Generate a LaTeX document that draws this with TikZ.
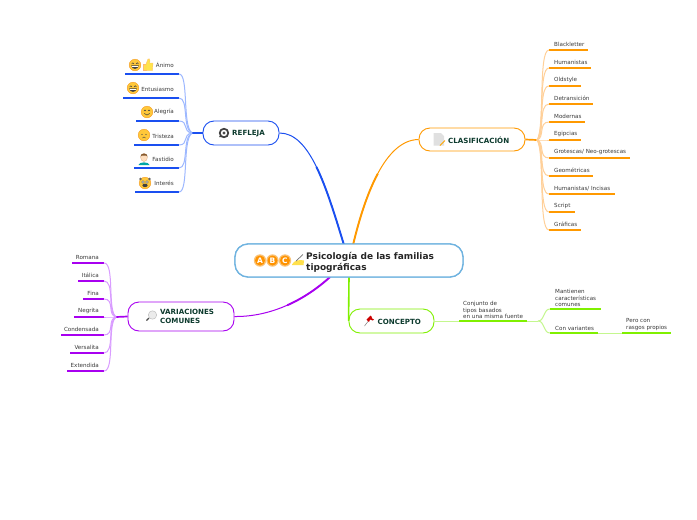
\documentclass[tikz,border=0pt]{standalone}
\usepackage{fontspec}
\usetikzlibrary{calc}
\setmainfont{DejaVu Sans}
\definecolor{cblue}{HTML}{1A4FF0}
\definecolor{lblue}{HTML}{9DB8FF}
\definecolor{corange}{HTML}{FF9900}
\definecolor{lorange}{HTML}{FFD099}
\definecolor{cpurple}{HTML}{A800F0}
\definecolor{lpurple}{HTML}{D99CFF}
\definecolor{cgreen}{HTML}{80F000}
\definecolor{lgreen}{HTML}{C4F78E}
\definecolor{csky}{HTML}{6FB3E0}
\definecolor{tdark}{HTML}{0D3B2E}
\definecolor{tgray}{HTML}{3A3A3A}
\definecolor{fyel}{HTML}{FFC83A}
\definecolor{ford}{HTML}{F59A1C}
\tikzset{
  x=1pt,y=-1pt,
  root/.style={draw=csky,line width=1.3pt,rounded corners=13pt,minimum width=228pt,minimum height=33pt,inner sep=0pt,fill=white},
  topic/.style={draw=#1,line width=0.9pt,rounded corners=11pt,inner sep=0pt,fill=white},
  roottext/.style={font=\bfseries\fontsize{9}{11}\selectfont,text=black!85,align=left,anchor=west,inner sep=0pt},
  topictext/.style={font=\bfseries\fontsize{7.1}{9}\selectfont,text=tdark,align=left,anchor=west,inner sep=0pt},
  leaftext/.style={font=\fontsize{5.6}{6.7}\selectfont,text=tgray,inner sep=0pt,align=left},
  under/.style={draw=#1,line width=1.2pt},
  twig/.style={draw=#1,line width=1pt},
  branch/.style={draw=#1,line width=1pt},
  branchend/.style={draw=#1,line width=1.9pt},
}
\newcommand{\fc}[2]{\fill[fyel,draw=ford,line width=0.4pt] (#1,#2) circle (5.8);}
\newcommand{\smileface}[2]{\fc{#1}{#2}
  \draw[black!75,line width=0.5pt] ({#1-3.4},{#2-1}) .. controls ({#1-2.2},{#2-2.6}) .. ({#1-1},{#2-1}) ({#1+1},{#2-1}) .. controls ({#1+2.2},{#2-2.6}) .. ({#1+3.4},{#2-1});
  \fill[black!75] ({#1-3.8},{#2+0.4}) -- ({#1+3.8},{#2+0.4}) .. controls ({#1+3.2},{#2+5}) and ({#1-3.2},{#2+5}) .. cycle;
  \fill[white] ({#1-3.1},{#2+0.8}) rectangle ({#1+3.1},{#2+2});}
\newcommand{\gladface}[2]{\fc{#1}{#2}
  \draw[black!75,line width=0.5pt] ({#1-3},{#2-1}) .. controls ({#1-2},{#2-2.4}) .. ({#1-1},{#2-1}) ({#1+1},{#2-1}) .. controls ({#1+2},{#2-2.4}) .. ({#1+3},{#2-1});
  \draw[black!75,line width=0.5pt] ({#1-2.8},{#2+1.4}) .. controls ({#1-1},{#2+3.6}) and ({#1+1},{#2+3.6}) .. ({#1+2.8},{#2+1.4});}
\newcommand{\sadface}[2]{\fc{#1}{#2}
  \fill[black!70] ({#1-2},{#2-0.6}) circle (0.6) ({#1+2},{#2-0.6}) circle (0.6);
  \draw[black!70,line width=0.4pt] ({#1-1.6},{#2+3}) .. controls ({#1},{#2+1.6}) .. ({#1+1.6},{#2+3});}
\newcommand{\wowface}[2]{\fc{#1}{#2}
  \fill[black!60] ({#1-4.5},{#2-4}) circle (1.3) ({#1+4.5},{#2-4}) circle (1.3);
  \fill[white,draw=black!70,line width=0.3pt] ({#1-2},{#2-1}) circle (1.3) ({#1+2},{#2-1}) circle (1.3);
  \fill[black!75] ({#1},{#2+2.4}) ellipse (2.6 and 1.7);}
\newcommand{\letterball}[3]{\fill[ford!60!white] (#1,#2) circle (6.2);
  \fill[orange!85!yellow] (#1,#2) circle (5);
  \node[inner sep=0pt,text=white,font=\bfseries\fontsize{7.5}{8}\selectfont] at (#1,#2) {#3};}
\begin{document}
\begin{tikzpicture}
\useasboundingbox[fill=white] (0,0) rectangle (697,520);

% main nodes
\node[root] (main) at (349,260.5) {};
\node[topic=cblue,minimum width=76pt,minimum height=24pt] (refl) at (241,133) {};
\node[topic=corange,minimum width=106pt,minimum height=23pt] (clas) at (472,139.5) {};
\node[topic=cpurple,minimum width=106pt,minimum height=29pt] (vari) at (181,316.5) {};
\node[topic=cgreen,minimum width=85pt,minimum height=24pt] (conc) at (391.5,321) {};

% main branches: a thin curve, thicker over its half nearest the centre
\coordinate (mb) at (344,245);
\coordinate (mo) at (353,245);
\coordinate (mp) at (330,277);
\coordinate (mg) at (349,277);
\coordinate (hb) at (316.4,166.9);
\coordinate (ho) at (377.75,173.75);
\coordinate (hp) at (287.25,305.25);
\draw[branch=cblue] (refl.east) .. controls (310,133) and (326,186) .. (mb);
\draw[branchend=cblue] (hb) .. controls (326.5,187.5) and (335,215.5) .. (mb);
\draw[branch=corange] (clas.west) .. controls (385,140) and (365,195) .. (mo);
\draw[branchend=corange] (ho) .. controls (367,193.75) and (359,220) .. (mo);
\draw[branch=cpurple] (vari.east) .. controls (272,317) and (306,299) .. (mp);
\draw[branchend=cpurple] (hp) .. controls (303.5,298) and (318,288) .. (mp);
\draw[cgreen,line width=1.6pt] (mg) -- (conc.west);

% redraw the central node over the branches' ends
\node[root] at (main.center) {};

% central label
\letterball{260}{260.5}{A}
\letterball{272.5}{260.5}{B}
\letterball{285}{260.5}{C}
\fill[orange!35!yellow!70!white] (292,264.5) .. controls (294,260) and (300,259.5) .. (304,260.5) -- (303.5,265) -- (292,265) -- cycle;
\draw[black!55,line width=0.7pt] (296,261) -- (303,254.5);
\node[roottext] (maint) at (306,262) {Psicología de las familias\\tipográficas};

% REFLEJA
\coordinate (jb) at (192,133);
\draw[cblue,line width=1.7pt] (refl.west) -- (jb);
\foreach \n/\ya/\xa/\ta in {a/74/125/Ánimo,b/98/123/Entusiasmo,c/121/136/Alegría,d/145/134/Tristeza,e/168/134/Fastidio,f/192/135/Interés}{
  \coordinate (rs\n) at (\xa,\ya);
  \coordinate (re\n) at (179,\ya);
  \draw[under=cblue] (rs\n) -- (re\n);
  \draw[twig=lblue] (re\n) .. controls (189,\ya) and (182,{133+(\ya-133)*0.12}) .. (jb);
  \node[leaftext,anchor=east] (rt\n) at (174,{\ya-8.7}) {\ta};
}
\smileface{135}{65}
\fill[orange!30!yellow!70!white,draw=orange!55,line width=0.3pt] (143.5,64) rectangle (146,70.5);
\fill[orange!30!yellow!70!white,draw=orange!55,line width=0.3pt] (146,70.5) -- (146,64) -- (148,59) .. controls (149,58) and (150,59) .. (150,61) -- (149.5,63) -- (153,63) -- (152.5,70.5) -- cycle;
\smileface{133}{88}
\gladface{147}{112}
\sadface{144}{135}
% person
\fill[teal!70!cyan] (138.5,165) .. controls (139,161.5) and (149,161.5) .. (149.5,165) -- cycle;
\fill[orange!25!white,draw=brown!60,line width=0.3pt] (144,157.5) ellipse (3.4 and 4);
\fill[brown!70!black] (140.4,156.5) .. controls (140.5,152.5) and (147.5,152.5) .. (147.6,156.5) -- (146,155.5) -- (142,155.5) -- cycle;
\wowface{145}{183}
% eye icon
\fill[black!75] (224,133) circle (5.2);
\fill[black!75] (219,137) -- (221,134) -- (223,137) -- cycle;
\fill[white] (224,133) circle (3.2);
\fill[black!70] (224,133) circle (1.6);
\node[topictext] (reflt) at (232,133.5) {REFLEJA};

% CLASIFICACION
\coordinate (jo) at (537,140);
\draw[corange,line width=1.7pt] (clas.east) -- (jo);
\foreach \n/\ya/\xb/\ta in {a/50/588/Blackletter,b/68/591/Humanistas,c/86/581/Oldstyle,d/104/593/Detransición,e/122/585/Modernas,f/140/581/Egipcias,g/158/630/{Grotescas/ Neo-grotescas},h/176/593/Geométricas,i/194/615/{Humanistas/ Incisas},j/212/575/Script,k/230/581/Gráficas}{
  \coordinate (os\n) at (549,\ya);
  \coordinate (oe\n) at (\xb,\ya);
  \draw[under=corange] (os\n) -- (oe\n);
  \draw[twig=lorange] (os\n) .. controls (538,\ya) and (545,{140+(\ya-140)*0.12}) .. (jo);
  \node[leaftext,anchor=west] (ot\n) at (554,{\ya-5.8}) {\ta};
}
% doc icon
\fill[black!12] (433.5,133) -- (441,133) -- (444,136) -- (444,145.5) -- (433.5,145.5) -- cycle;
\draw[orange!70!yellow,line width=1pt] (440,145.5) -- (445,140.5);
\node[topictext] (clast) at (448,140.2) {CLASIFICACIÓN};

% VARIACIONES
\coordinate (jp) at (116,317);
\draw[cpurple,line width=1.7pt] (vari.west) -- (jp);
\foreach \n/\ya/\xa/\ta in {a/263/72/Romana,b/281/78/Itálica,c/299/83/Fina,d/317/74/Negrita,e/335/61/Condensada,f/353/70/Versalita,g/371/67/Extendida}{
  \coordinate (ps\n) at (\xa,\ya);
  \coordinate (pe\n) at (104,\ya);
  \draw[under=cpurple] (ps\n) -- (pe\n);
  \draw[twig=lpurple] (pe\n) .. controls (115,\ya) and (107,{317+(\ya-317)*0.12}) .. (jp);
  \node[leaftext,anchor=east] (pt\n) at (99,{\ya-5.6}) {\ta};
}
% magnifier
\draw[black!70,line width=1.2pt] (146.5,320.5) -- (149,318);
\fill[black!8,draw=black!25,line width=0.5pt] (152.5,315) circle (4.2);
\node[topictext] (varit) at (160,316.5) {VARIACIONES\\COMUNES};

% CONCEPTO
\coordinate (ga) at (459,321);
\coordinate (gb) at (527,321);
\coordinate (gj) at (538,321);
\coordinate (gc) at (550,309);
\coordinate (gd) at (601,309);
\coordinate (ge) at (550,333);
\coordinate (gf) at (598,333);
\coordinate (gg) at (622,333);
\coordinate (gh) at (671,333);
\draw[twig=lgreen] (conc.east) -- (ga);
\draw[under=cgreen] (ga) -- (gb);
\draw[twig=lgreen] (gb) -- (gj);
\draw[twig=lgreen] (gj) .. controls (545,321) and (543,309) .. (gc);
\draw[twig=lgreen] (gj) .. controls (545,321) and (543,333) .. (ge);
\draw[under=cgreen] (gc) -- (gd);
\draw[under=cgreen] (ge) -- (gf);
\draw[twig=lgreen] (gf) -- (gg);
\draw[under=cgreen] (gg) -- (gh);
\node[leaftext,anchor=south west] (t1) at (463,319) {Conjunto de\\tipos basados\\en una misma fuente};
\node[leaftext,anchor=south west] (t2) at (555,307) {Mantienen\\características\\comunes};
\node[leaftext,anchor=south west] (t3) at (555,331) {Con variantes};
\node[leaftext,anchor=south west] (t4) at (626,331) {Pero con\\rasgos propios};
% pin
\draw[black!50,line width=0.5pt] (364.5,326) -- (368,321.5);
\fill[red!80!black] (366.5,319.5) -- (370.5,315.5) -- (372,317) -- (371.5,318) -- (374,319.5) -- (372.8,320.5) -- (370,319.5) -- (369,322) -- cycle;
\node[topictext] (conct) at (377.5,321.5) {CONCEPTO};
\end{tikzpicture}
\end{document}
